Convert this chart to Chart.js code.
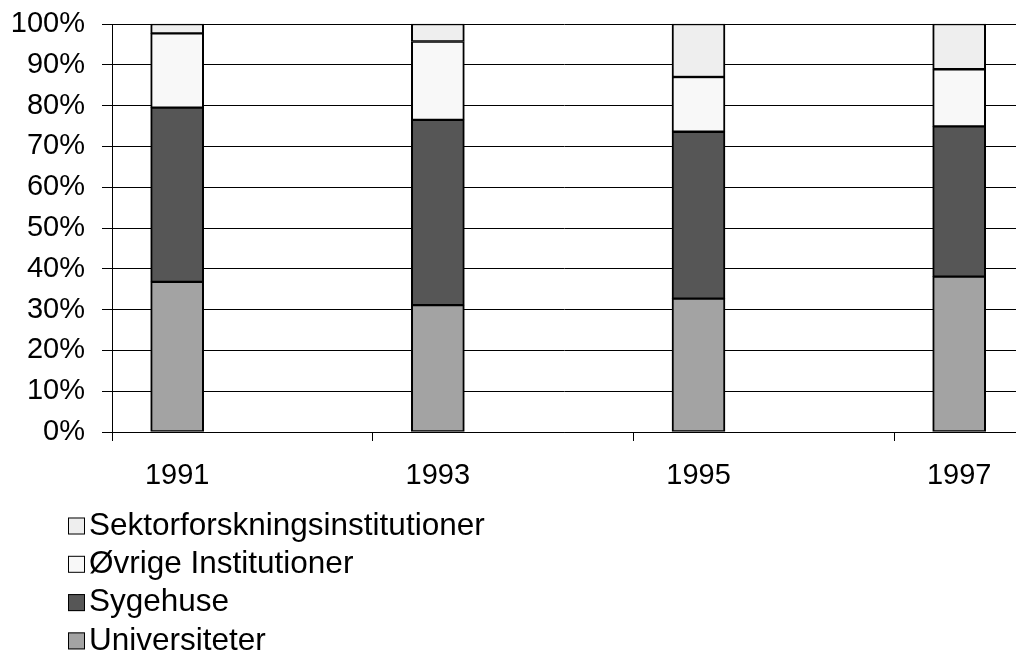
<!DOCTYPE html>
<html>
<head>
<meta charset="utf-8">
<script src="https://cdn.jsdelivr.net/npm/chart.js@4/dist/chart.umd.min.js"></script>
<style>
  html, body { margin: 0; padding: 0; background: #fff; }
  #wrap { width: 1016px; height: 651px; }
</style>
</head>
<body>
<div id="wrap"><canvas id="chart"></canvas></div>
<script>
// data (share of total, %)
const years = ['1991', '1993', '1995', '1997'];
const universiteter = [36.8, 31.1, 32.7, 38.1];
const sygehuse = [42.7, 45.4, 40.9, 36.8];
const oevrige = [18.2, 19.2, 13.4, 14.0];
const sektor = [2.3, 4.3, 13.0, 11.1];
const yTicks = [0, 10, 20, 30, 40, 50, 60, 70, 80, 90, 100];

const FAMILY = 'Arial, "Liberation Sans", sans-serif';
const FONT = { family: FAMILY, size: 29 };
const LEGEND_SIZE = 31.5;

const series = [
  { label: 'Universiteter', data: universiteter, color: '#a3a3a3' },
  { label: 'Sygehuse', data: sygehuse, color: '#565656' },
  { label: 'Øvrige Institutioner', data: oevrige, color: '#f8f8f8' },
  { label: 'Sektorforskningsinstitutioner', data: sektor, color: '#eeeeee' }
];

// x index: bars sit at 0..3, tick marks sit a quarter step to the left
const xTickVals = [];
years.forEach((y, i) => { xTickVals.push(i - 0.25, i); });

// legend stacked vertically under the plot, top entry = top segment
const legendPlugin = {
  id: 'sideLegend',
  afterDraw(chart) {
    const ctx = chart.ctx;
    const left = 68, top0 = 526, step = 38.3, box = 17;
    ctx.save();
    ctx.font = LEGEND_SIZE + 'px ' + FAMILY;
    ctx.textBaseline = 'middle';
    ctx.textAlign = 'left';
    series.slice().reverse().forEach((s, i) => {
      const cy = top0 + i * step;
      ctx.fillStyle = s.color;
      ctx.fillRect(left, cy - box / 2, box, box);
      ctx.strokeStyle = '#000';
      ctx.lineWidth = 1;
      ctx.strokeRect(left + 0.5, cy - box / 2 + 0.5, box - 1, box - 1);
      ctx.fillStyle = '#000';
      ctx.fillText(s.label, left + box + 4, cy);
    });
    ctx.restore();
  }
};

new Chart(document.getElementById('chart'), {
  type: 'bar',
  data: {
    datasets: series.map(s => ({
      label: s.label,
      data: s.data.map((v, i) => ({ x: i, y: v })),
      backgroundColor: s.color,
      borderColor: '#000',
      borderWidth: { left: 2, right: 2, top: 1.5, bottom: 1.5 },
      barThickness: 53,
      borderSkipped: false,
      clip: false
    }))
  },
  options: {
    responsive: true,
    maintainAspectRatio: false,
    animation: false,
    layout: { padding: { top: 24, right: 0, bottom: 0, left: 0 } },
    plugins: { legend: { display: false }, tooltip: { enabled: false } },
    scales: {
      x: {
        type: 'linear',
        stacked: true,
        offset: false,
        min: -0.25,
        max: 3.218,
        afterBuildTicks: (axis) => { axis.ticks = xTickVals.map(v => ({ value: v })); },
        afterFit: (axis) => { axis.height = 651 - 432; axis.paddingRight = 0; },
        ticks: {
          autoSkip: false,
          maxRotation: 0,
          padding: 18,
          color: '#000',
          font: FONT,
          callback: (v) => Number.isInteger(v) ? years[v] : ''
        },
        grid: {
          offset: false,
          drawOnChartArea: false,
          tickLength: 9,
          tickColor: (c) => (c.tick && Number.isInteger(c.tick.value)) ? 'rgba(0,0,0,0)' : '#000'
        },
        border: { display: true, color: '#000', width: 1 }
      },
      y: {
        stacked: true,
        min: 0,
        max: 100,
        afterBuildTicks: (axis) => { axis.ticks = yTicks.map(v => ({ value: v })); },
        afterFit: (axis) => { axis.width = 112; axis.paddingTop = 0; axis.paddingBottom = 0; },
        ticks: {
          padding: 17,
          color: '#000',
          font: FONT,
          callback: (v) => v + '%'
        },
        grid: { color: '#000', lineWidth: 1, tickLength: 10, tickColor: '#000' },
        border: { display: true, color: '#000', width: 1 }
      }
    }
  },
  plugins: [legendPlugin]
});
</script>
</body>
</html>
